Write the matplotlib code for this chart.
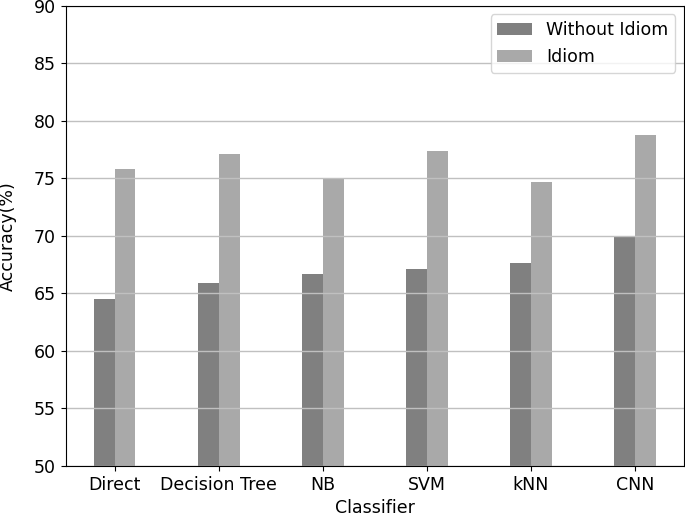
import matplotlib
matplotlib.use('Agg')
import matplotlib.pyplot as plt
import numpy as np

classifiers = ['Direct', 'Decision Tree', 'NB', 'SVM', 'kNN', 'CNN']
without_idiom = [64.5, 65.9, 66.7, 67.1, 67.6, 70.0]
idiom = [75.8, 77.1, 75.0, 77.4, 74.7, 78.8]

x = np.arange(len(classifiers))
w = 0.2

fig, ax = plt.subplots(figsize=(6.85, 5.17), dpi=100)
fig.subplots_adjust(left=0.096, right=0.9985, top=0.989, bottom=0.0986)

ax.bar(x - w/2, without_idiom, w, color='gray', label='Without Idiom')
ax.bar(x + w/2, idiom, w, color='darkgray', label='Idiom')

ax.set_ylim(50, 90)
ax.set_yticks(np.arange(50, 91, 5))
ax.set_xticks(x)
ax.set_xticklabels(classifiers, fontsize=12.5)
ax.tick_params(axis='y', labelsize=12.5)
ax.yaxis.grid(True, color='#c0c0c0', linewidth=1)
ax.set_xlabel('Classifier', fontsize=12.5, labelpad=4)
ax.set_ylabel('Accuracy(%)', fontsize=12.5, labelpad=12)
ax.legend(loc='upper right', fontsize=12.5)

plt.savefig('out.png')
